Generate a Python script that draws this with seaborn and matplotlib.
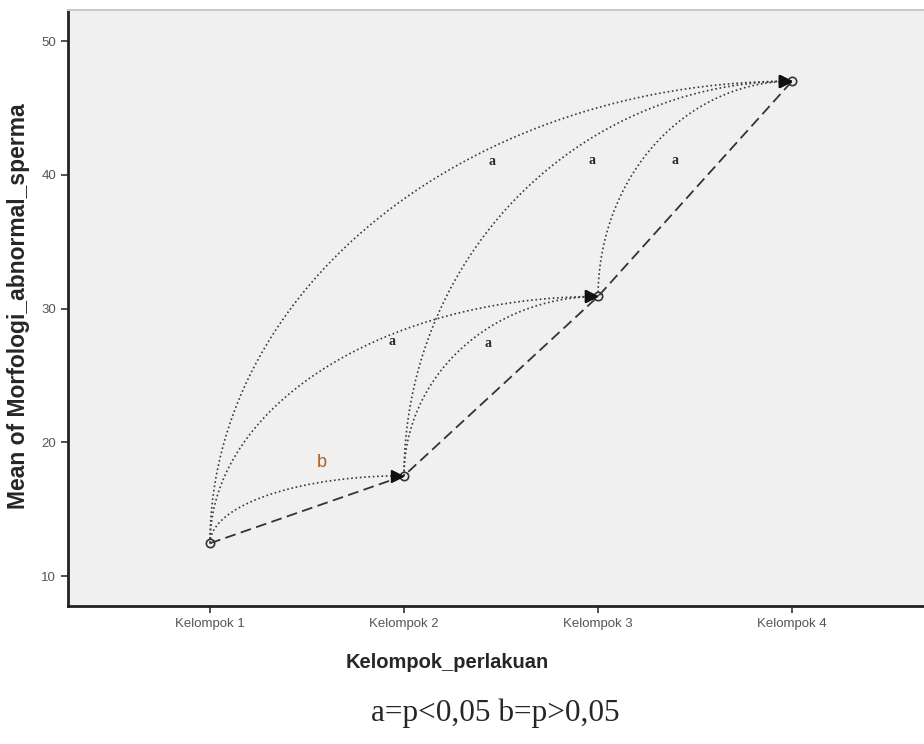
import matplotlib
matplotlib.use('Agg')
import matplotlib.pyplot as plt
import seaborn as sns
import numpy as np
import pandas as pd

groups = ['Kelompok 1', 'Kelompok 2', 'Kelompok 3', 'Kelompok 4']
means = [12.45, 17.5, 30.9, 47.0]

# pairwise comparisons drawn as arcs: from group, to group, letter
pair_from = [0, 0, 0, 1, 1, 2]
pair_to = [1, 2, 3, 2, 3, 3]
pair_sig = ['b', 'a', 'a', 'a', 'a', 'a']
caption = 'a=p<0,05 b=p>0,05'

df = pd.DataFrame({'Kelompok_perlakuan': groups, 'Mean': means})

sns.set_style('white')
plt.rcParams['font.family'] = ['Liberation Sans', 'DejaVu Sans']

fig = plt.figure(figsize=(9.24, 7.44), dpi=100)
ax = fig.add_axes([68 / 924, 1 - 606 / 744, 1 - 68 / 924, 596 / 744])
ax.set_facecolor('#f0f0f0')

sns.lineplot(data=df, x='Kelompok_perlakuan', y='Mean', ax=ax, color='#333333',
             linewidth=1.3, linestyle=(0, (6, 3)), marker='o', markersize=6,
             markerfacecolor='none', markeredgecolor='#333333', markeredgewidth=1.2)

# label placement: angle on the arc (deg) and offset in pixels
lab_theta = [65, 58, 59, 55.5, 59, 39]
lab_dx = [0, 0, 0, 0, 0, 34]
lab_dy = [20, -8, -14, -15, -23, 0]

theta = np.linspace(0, np.pi / 2, 200)
for k, (i, j, s) in enumerate(zip(pair_from, pair_to, pair_sig)):
    x0, y0, x1, y1 = i, means[i], j, means[j]
    xs = x1 - (x1 - x0) * np.cos(theta)
    ys = y0 + (y1 - y0) * np.sin(theta)
    ax.plot(xs, ys, color='#3a3a3a', linewidth=1.2, linestyle=(0, (1, 1.6)))
    ax.plot([x1 - 0.035], [y1], marker='>', markersize=9, color='#111111',
            linestyle='none')
    t = np.deg2rad(lab_theta[k])
    lx = x1 - (x1 - x0) * np.cos(t)
    ly = y0 + (y1 - y0) * np.sin(t)
    if s == 'b':
        kw = dict(color='#b0601e', fontsize=13)
    else:
        kw = dict(color='#2a2a2a', fontsize=10, fontweight='bold',
                  family=['Liberation Serif', 'DejaVu Serif'])
    ax.annotate(s, (lx, ly), xytext=(lab_dx[k] * 0.72, lab_dy[k] * 0.72),
                textcoords='offset points', ha='center', va='center', **kw)

ax.set_xlim(-0.732, 3.68)
ax.set_ylim(7.76, 52.32)
ax.set_yticks([10, 20, 30, 40, 50])

for side in ['left', 'bottom']:
    ax.spines[side].set_color('#222222')
    ax.spines[side].set_linewidth(2)
ax.spines['top'].set_color('#c8c8c8')
ax.spines['top'].set_linewidth(1.5)
ax.spines['right'].set_visible(False)

ax.tick_params(axis='both', direction='out', length=5, width=1.2, color='#333333',
               labelsize=9.5, labelcolor='#555555', left=True, bottom=True)
ax.set_xlabel('Kelompok_perlakuan', fontsize=14.5, fontweight='bold')
ax.set_ylabel('Mean of Morfologi_abnormal_sperma', fontsize=16.5, fontweight='bold')
ax.xaxis.set_label_coords((447 - 68) / 856, -(653 - 606) / 596)
ax.yaxis.set_label_coords(-(68 - 30) / 856, (606 - 306) / 596)

fig.text(495 / 924, 1 - 713 / 744, caption, ha='center', va='center',
         family=['Liberation Serif', 'DejaVu Serif'], fontsize=22.5)

fig.savefig('out.png', dpi=100)
